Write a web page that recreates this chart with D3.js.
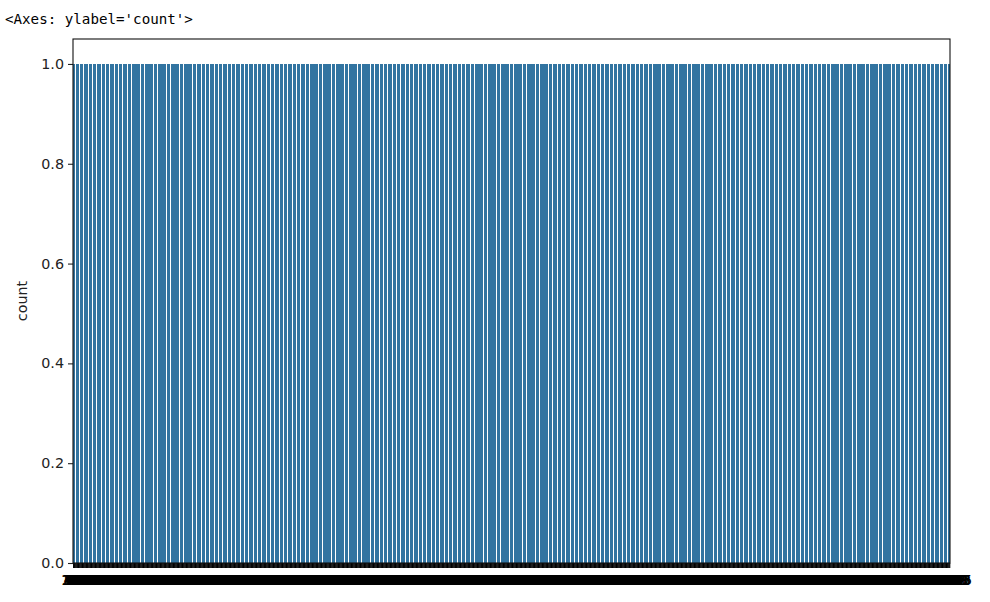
<!DOCTYPE html>
<html>
<head>
<meta charset="utf-8">
<script src="https://cdn.jsdelivr.net/npm/d3@7"></script>
<style>
  html, body { margin: 0; padding: 0; background: #fff; }
  svg { display: block; }
</style>
</head>
<body>
<svg id="chart" width="990" height="602"></svg>
<script>
// Raw column values passed to the count plot (each value occurs once)
const observations = [
72,155,243,338,412,524,603,691,806,894,
972,1069,1130,1221,1333,1402,1516,1574,1683,1817,
1872,1936,2052,2103,2199,2291,2380,2523,2575,2670,
2772,2855,2943,3038,3112,3224,3303,3391,3506,3594,
3672,3769,3830,3921,4033,4102,4216,4274,4383,4517,
4572,4636,4752,4803,4899,4991,5080,5223,5275,5370,
5472,5555,5643,5738,5812,5924,6003,6091,6206,6294,
6372,6469,6530,6621,6733,6802,6916,6974,7083,7217,
7272,7336,7452,7503,7599,7691,7780,7923,7975,8070,
8172,8255,8343,8438,8512,8624,8703,8791,8906,8994,
9072,9169,9230,9321,9433,9502,9616,9674,9783,9917,
9972,10036,10152,10203,10299,10391,10480,10623,10675,10770,
10872,10955,11043,11138,11212,11324,11403,11491,11606,11694,
11772,11869,11930,12021,12133,12202,12316,12374,12483,12617,
12672,12736,12852,12903,12999,13091,13180,13323,13375,13470,
13572,13655,13743,13838,13912,14024,14103,14191,14306,14394,
14472,14569,14630,14721,14833,14902,15016,15074,15183,15317,
15372,15436,15552,15603,15699,15791,15880,16023,16075,16170,
16272,16355,16443,16538,16612,16724,16803,16891,17006,17094,
17172,17269,17330,17421,17533,17602,17716,17774,17883,18017,
18072,18136,18252,18303,18399,18491,18580,18723,18775,18870,
18972,19055,19143,19238,19312,19424,19503,19591,19706,19794,
19872,19969,20030,20121,20233,20302,20416,20474,20583,20717,
20772,20836,20952,21003,21099,21191,21280,21423,21475,21570,
21672,21755,21843,21938,22012,22124,22203,22291,22406,22494,
22572,22669,22730,22821,22933,23002,23116,23174,23283,23417,
23472,23536,23652,23703,23799,23891,23980,24123,24175,24270,
24372,24455,24543,24638,24712,24824,24903,24991,25106,25194,
25272,25369,25430,25521,25633,25702,25816,25874,25983,26117,
26172,26236,26352,26403,26499,26591,26680,26823,26875,26970,
27072,27155,27243,27338,27412,27524,27603,27691,27806,27894,
27972,28069,28130,28221,28333,28402,28516,28574,28683,28817,
28872,28936,29052,29103,29199,29291,29380,29523,29575,29670,
29772,29855,29943,30038,30112,30224,30303,30391,30506,30594,
30672,30769,30830,30921,31033,31102,31216,31274,31383,31517,
31572,31636,31752,31803,31899,31991,32080,32223,32275,32370,
32472,32555,32643,32738,32812,32924,33003,33091,33206,33294,
33372,33469,33530,33621,33733,33802,33916,33974,34083,34217,
34272,34336,34452,34503,34599,34691,34780,34923,34975,35070,
35172,35255,35343,35438,35512,35624,35703,35791,35906,35994,
36072,36169,36230,36321,36433,36502,36616,36674,36783,36917,
36972,37036,37152,37203,37299,37391,37480,37623,37675,37770,
37872,37955,38043,38138,38212,38324,38403,38491,38606,38694,
38772,38869,38930,39021,39133,39202,39316,39374,39483,39617,
39672,39736,39852,39903,39999,40091,40180,40323,40375,40470,
40572,40655,40743,40838,40912,41024,41103,41191,41306,41394,
41472,41569,41630,41721,41833,41902,42016,42074,42183,42317,
42372,42436,42552,42603,42699,42791,42880,43023,43075,43170,
43272,43355,43443,43538,43612,43724,43803,43891,44006,44094,
44172,44269,44330,44421,44533,44602,44716,44774,44883,45017,
45072,45136,45252,45303,45399,45491,45580,45723,45775,45870,
45972,46055,46143,46238,46312,46424,46503,46591,46706,46794,
46872,46969,47030,47121,47233,47302,47416,47474,47583,47717,
47772,47836,47952,48003,48099,48191,48280,48423,48475,48570,
48672,48755,48843,48938,49012,49124,49203,49291,49406,49494,
49572,49669,49730,49821,49933,50002,50116,50174,50283,50417,
50472,50536,50652,50703,50799,50891,50980,51123,51175,51270,
51372,51455,51543,51638,51712,51824,51903,51991,52106,52194,
52272,52369,52430,52521,52633,52702,52816,52874,52983,53117,
53172,53236,53352,53403,53499,53591,53680,53823,53875,53970,
54072,54155,54243,54338,54412,54524,54603,54691,54806,54894,
54972,55069,55130,55221,55333,55402,55516,55574,55683,55817,
55872,55936,56052,56103,56199,56291,56380,56523,56575,56670,
56772,56855,56943,57038,57112,57224,57303,57391,57506,57594,
57672,57769,57830,57921,58033,58102,58216,58274,58383,58517,
58572,58636,58752,58803,58899,58991,59080,59223,59275,59370,
59472,59555,59643,59738,59812,59924,60003,60091,60206,60294,
60372,60469,60530,60621,60733,60802,60916,60974,61083,61217,
61272,61336,61452,61503,61599,61691,61780,61923,61975,62070,
62172,62255,62343,62438,62512,62624,62703,62791,62906,62994,
63072,63169,63230,63321,63433,63502,63616,63674,63783,63917,
63972,64036,64152,64203,64299,64391,64480,64623,64675,64770,
64872,64955,65043,65138,65212,65324,65403,65491,65606,65694,
65772,65869,65930,66021,66133,66202,66316,66374,66483,66617,
66672,66736,66852,66903,66999,67091,67180,67323,67375,67470,
67572,67655,67743,67838,67912,68024,68103,68191,68306,68394,
68472,68569,68630,68721,68833,68902,69016,69074,69183,69317,
69372,69436,69552,69603,69699,69791,69880,70023,70075,70170,
70272,70355,70443,70538,70612,70724,70803,70891,71006,71094,
71172,71269,71330,71421,71533,71602,71716,71774,71883,72017,
72072,72136,72252,72303,72399,72491,72580,72723,72775,72870,
72972,73055,73143,73238,73312,73424,73503,73591,73706,73794,
73872,73969,74030,74121,74233,74302,74416,74474,74583,74717,
74772,74836,74952,75003,75099,75191,75280,75423,75475,75570,
75672,75755,75843,75938,76012,76124,76203,76291,76406,76494,
76572,76669,76730,76821,76933,77002,77116,77174,77283,77417,
77472,77536,77652,77703,77799,77891,77980,78123,78175,78270,
78372,78455,78543,78638,78712,78824,78903,78991,79106,79194,
79272,79369,79430,79521,79633,79702,79816,79874,79983,80117,
80172,80236,80352,80403,80499,80591,80680,80823,80875,80970,
81072,81155,81243,81338,81412,81524,81603,81691,81806,81894,
81972,82069,82130,82221,82333,82402,82516,82574,82683,82817,
82872,82936,83052,83103,83199,83291,83380,83523,83575,83670,
83772,83855,83943,84038,84112,84224,84303,84391,84506,84594,
84672,84769,84830,84921,85033,85102,85216,85274,85383,85517,
85572,85636,85752,85803,85899,85991,86080,86223,86275,86370,
86472,86555,86643,86738,86812,86924,87003,87091,87206,87294,
87372,87469,87530,87621,87733,87802,87916,87974,88083,88217,
88272,88336,88452,88503,88599,88691,88780,88923,88975,89070,
89172,89255,89343,89438,89512,89624,89703,89791,89906,89994,
90072,90169,90230,90321,90433,90502,90616,90674,90783,90917,
90972,91036,91152,91203,91299,91391,91480,91623,91675,91770,
91872,91955,92043,92138,92212,92324,92403,92491,92606,92694,
92772,92869,92930,93021,93133,93202,93316,93374,93483,93617,
93672,93736,93852,93903,93999,94091,94180,94323,94375,94470,
94572,94655,94743,94838,94912,95024,95103,95191,95306,95394,
95472,95569,95630,95721,95833,95902,96016,96074,96183,96317,
96372,96436,96552,96603,96699,96791,96880,97023,97075
];
const yTicks = [0.0, 0.2, 0.4, 0.6, 0.8, 1.0];
const yLabel = "count";
const title = "<Axes: ylabel='count'>";

// Count occurrences per category, like a count plot does
const countMap = d3.rollup(observations, v => v.length, d => d);
const categories = Array.from(countMap.keys()).sort(d3.ascending);
const data = categories.map(c => ({ cat: c, value: countMap.get(c) }));

const svg = d3.select("#chart");
const mLeft = 73, mRight = 950, mTop = 39, mBottom = 563;

const x = d3.scaleBand()
  .domain(categories)
  .range([mLeft, mRight])
  .paddingInner(0.2)
  .paddingOuter(0.1);

const yMax = d3.max(data, d => d.value) * 1.05;
const y = d3.scaleLinear().domain([0, yMax]).range([mBottom, mTop]);

// Output header text
svg.append("text")
  .attr("x", 5).attr("y", 24)
  .attr("font-family", "'DejaVu Sans Mono', 'Liberation Mono', monospace")
  .attr("font-size", 14.2)
  .attr("fill", "#000")
  .text(title);

// Bars
svg.append("g")
  .attr("shape-rendering", "crispEdges")
  .selectAll("rect")
  .data(data)
  .join("rect")
  .attr("x", d => x(d.cat))
  .attr("width", x.bandwidth())
  .attr("y", d => y(d.value))
  .attr("height", d => y(0) - y(d.value))
  .attr("fill", "#3274a1");

// Y axis
const yAxis = svg.append("g")
  .attr("transform", `translate(${mLeft},0)`)
  .call(d3.axisLeft(y).tickValues(yTicks).tickFormat(d3.format(".1f")).tickSize(5).tickPadding(4));
yAxis.select(".domain").remove();
yAxis.selectAll("text")
  .attr("font-family", "'DejaVu Sans', sans-serif")
  .attr("font-size", 14.3)
  .attr("fill", "#222");
yAxis.selectAll("line").attr("stroke", "#222").attr("stroke-width", 1.1);

// X axis (dense overlapping ticks and labels)
const xAxis = svg.append("g")
  .attr("transform", `translate(0,${mBottom})`)
  .call(d3.axisBottom(x).tickSize(5).tickPadding(7).tickFormat(d => String(d)));
xAxis.select(".domain").remove();
xAxis.selectAll("text")
  .attr("font-family", "'DejaVu Sans', sans-serif")
  .attr("font-size", 14)
  .attr("fill", "#000");
xAxis.selectAll("line").attr("stroke", "#000").attr("stroke-width", 1.1);

// Frame
svg.append("rect")
  .attr("x", mLeft).attr("y", mTop)
  .attr("width", mRight - mLeft).attr("height", mBottom - mTop)
  .attr("fill", "none")
  .attr("stroke", "#111")
  .attr("stroke-width", 1.1);

// Y label
svg.append("text")
  .attr("transform", `translate(27,${(mTop + mBottom) / 2}) rotate(-90)`)
  .attr("text-anchor", "middle")
  .attr("font-family", "'DejaVu Sans', sans-serif")
  .attr("font-size", 14.3)
  .attr("fill", "#222")
  .text(yLabel);
</script>
</body>
</html>
